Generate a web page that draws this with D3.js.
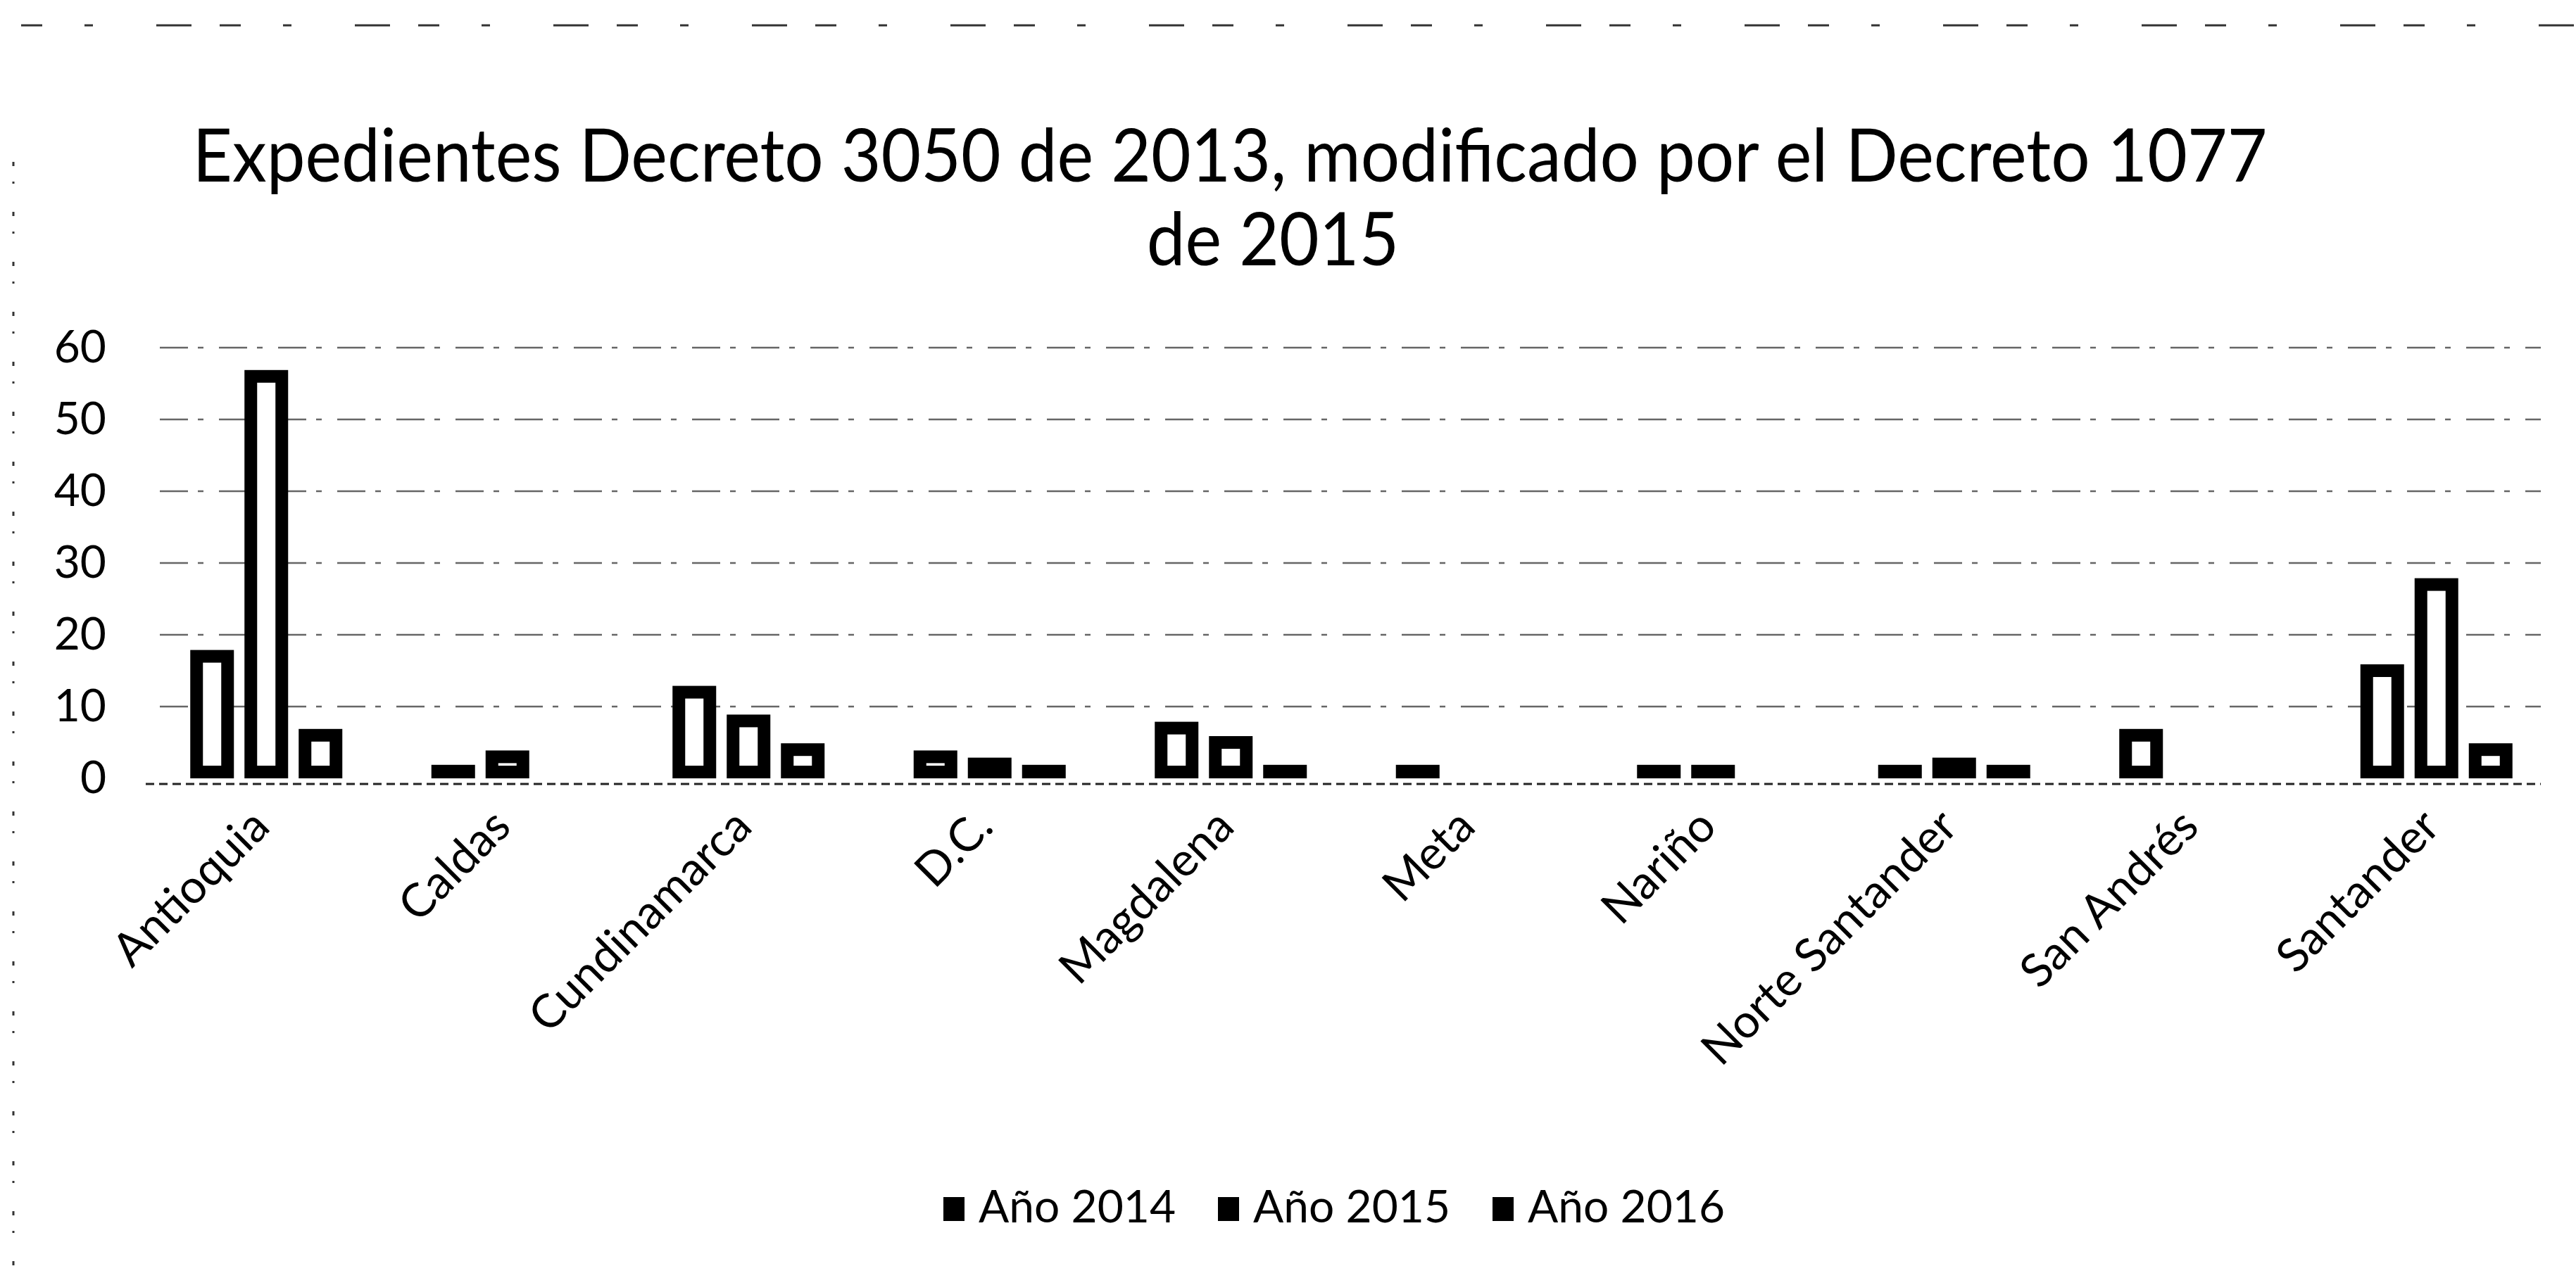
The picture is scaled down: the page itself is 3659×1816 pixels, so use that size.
<!DOCTYPE html>
<html>
<head>
<meta charset="utf-8">
<script src="https://cdn.jsdelivr.net/npm/d3@7"></script>
<style>
  body { margin: 0; background: #fff; }
  text { font-family: Lato, "Open Sans", sans-serif; fill: #000; }
</style>
</head>
<body>
<div id="chart"></div>
<script>
const categories = ["Antioquia", "Caldas", "Cundinamarca", "D.C.", "Magdalena", "Meta", "Nariño", "Norte Santander", "San Andrés", "Santander"]
const years = ["Año 2014", "Año 2015", "Año 2016"]
const values2014 = [17, 1, 12, 3, 7, 1, 1, 1, 6, 15]
const values2015 = [56, 3, 8, 2, 5, 0, 1, 2, 0, 27]
const values2016 = [6, 0, 4, 1, 1, 0, 0, 1, 0, 4]
const yTicks = [0, 10, 20, 30, 40, 50, 60]
const titleLines = ["Expedientes Decreto 3050 de 2013, modificado por el Decreto 1077", "de 2015"]

const width = 3659,
      height = 1816,
      margin = {top: 494, right: 27, bottom: 710, left: 207}

const series = [values2014, values2015, values2016]
const rows = []
categories.forEach((c, i) => {
  years.forEach((yr, j) => rows.push({cat: c, year: yr, value: series[j][i]}))
})

const x = d3.scaleBand()
    .domain(categories)
    .range([margin.left, width - margin.right])

const x1 = d3.scaleBand()
    .domain(years)
    .range([-115.5, 115.5])

const y = d3.scaleLinear()
    .domain([0, 60])
    .range([height - margin.bottom, margin.top])

const svg = d3.select("#chart")
  .append("svg")
    .attr("width", width)
    .attr("height", height)
    .attr("viewBox", [0, 0, width, height])

// scanned page border, left and top
svg.append("line")
    .attr("x1", 19).attr("x2", 19).attr("y1", 230).attr("y2", height)
    .attr("stroke", "#333").attr("stroke-width", 3)
    .attr("stroke-dasharray", "6,22,3,40")
svg.append("line")
    .attr("x1", 30).attr("x2", width).attr("y1", 36).attr("y2", 36)
    .attr("stroke", "#333").attr("stroke-width", 3)
    .attr("stroke-dasharray", "30,60,12,90,50,40")

// title: line 1 squeezed to the reference width, line 2 squeezed by the same ratio
const t1 = svg.append("text")
    .attr("x", 1747).attr("y", 258)
    .attr("text-anchor", "middle")
    .attr("font-size", 104)
    .text(titleLines[0])
const t2 = svg.append("text")
    .attr("x", 1808).attr("y", 377)
    .attr("text-anchor", "middle")
    .attr("font-size", 104)
    .text(titleLines[1])
const ratio = 2947 / t1.node().getComputedTextLength()
t1.attr("textLength", 2947).attr("lengthAdjust", "spacingAndGlyphs")
t2.attr("textLength", t2.node().getComputedTextLength() * ratio).attr("lengthAdjust", "spacingAndGlyphs")

// gridlines
svg.append("g")
  .selectAll("line")
  .data(yTicks.filter(d => d > 0))
  .join("line")
    .attr("x1", margin.left + 20)
    .attr("x2", width - 50)
    .attr("y1", d => y(d))
    .attr("y2", d => y(d))
    .attr("stroke", "#666")
    .attr("stroke-width", 2.5)
    .attr("stroke-dasharray", "40,14,8,22")

svg.append("line")
    .attr("x1", margin.left).attr("x2", width - 50)
    .attr("y1", y(0) + 8).attr("y2", y(0) + 8)
    .attr("stroke", "#222").attr("stroke-width", 3)
    .attr("stroke-dasharray", "12,7")

// y axis
svg.append("g")
    .attr("transform", `translate(${margin.left},0)`)
    .call(d3.axisLeft(y).tickValues(yTicks).tickSize(0).tickPadding(56))
    .call(g => g.select(".domain").remove())
    .call(g => g.selectAll("text")
        .attr("font-family", "Lato, sans-serif")
        .attr("font-size", 64)
        .attr("fill", "#000"))

// x axis, rotated labels
svg.append("g")
    .attr("transform", `translate(0,${y(0)})`)
    .call(d3.axisBottom(x).tickSize(0))
    .call(g => g.select(".domain").remove())
    .call(g => g.selectAll("text")
        .attr("font-family", "Lato, sans-serif")
        .attr("font-size", 66)
        .attr("fill", "#000")
        .attr("x", 0).attr("y", 0).attr("dy", 0)
        .attr("text-anchor", "end")
        .attr("transform", "translate(8,72) rotate(-45)"))

// bars
const sw = 18,
      outerW = 62
svg.append("g")
  .selectAll("rect")
  .data(rows.filter(d => d.value > 0))
  .join("rect")
    .attr("x", d => x(d.cat) + x.bandwidth() / 2 + x1(d.year) + (x1.bandwidth() - outerW + sw) / 2)
    .attr("y", d => y(d.value))
    .attr("width", outerW - sw)
    .attr("height", d => Math.max(1, y(0) - y(d.value) - sw / 2))
    .attr("fill", "#fff")
    .attr("stroke", "#000")
    .attr("stroke-width", sw)

// legend
const legend = svg.append("g")
  .selectAll("g")
  .data(years)
  .join("g")
    .attr("transform", (d, i) => `translate(${1340 + i * 390},1715)`)
legend.append("rect")
    .attr("x", 0).attr("y", -14)
    .attr("width", 30).attr("height", 34)
    .attr("fill", "#000")
legend.append("text")
    .attr("x", 50).attr("y", 22)
    .attr("font-size", 64)
    .text(d => d)
</script>
</body>
</html>
